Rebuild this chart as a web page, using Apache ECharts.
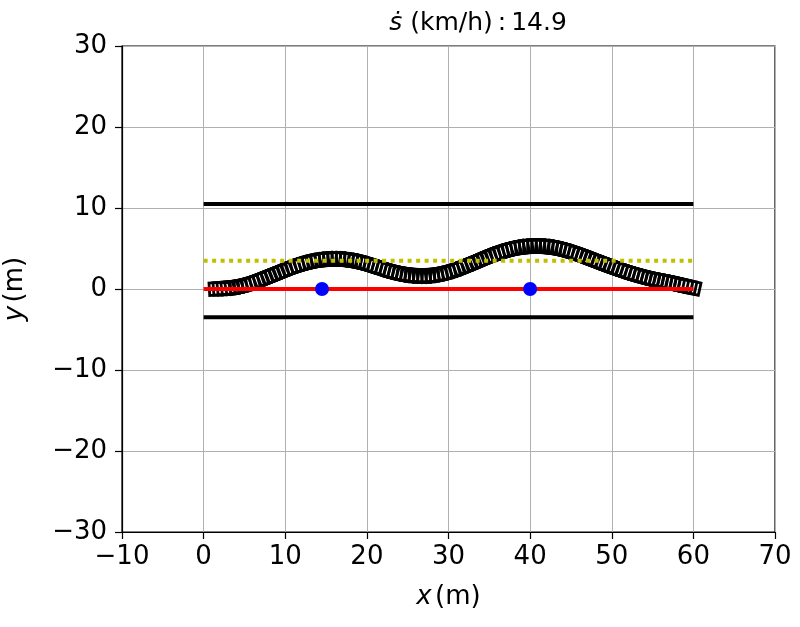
<!DOCTYPE html>
<html><head><meta charset="utf-8">
<script src="https://cdn.jsdelivr.net/npm/echarts@6/dist/echarts.min.js"></script>
<style>html,body{margin:0;padding:0;background:#fff}#c{width:800px;height:627px}</style>
</head><body><div id="c"></div>
<script>
// ---- data ----
const xTicks = [-10, 0, 10, 20, 30, 40, 50, 60, 70];
const yTicks = [-30, -20, -10, 0, 10, 20, 30];
const speedKmh = 14.9;
const boundTopY = 10.5;
const boundBottomY = -3.5;
const laneMidY = 3.5;
const refLineY = 0;
const roadX = [0, 60];
const obstaclesX = [14.5, 40];
const obstaclesY = [0, 0];
const carLength = 2.6;
const carWidth = 1.55;
const trajX = [2.0,2.5,3.0,3.5,4.0,4.5,5.0,5.5,6.0,6.5,7.0,7.5,8.0,8.5,9.0,9.5,10.0,10.5,11.0,11.5,12.0,12.5,13.0,13.5,14.0,14.5,15.0,15.5,16.0,16.5,17.0,17.5,18.0,18.5,19.0,19.5,20.0,20.5,21.0,21.5,22.0,22.5,23.0,23.5,24.0,24.5,25.0,25.5,26.0,26.5,27.0,27.5,28.0,28.5,29.0,29.5,30.0,30.5,31.0,31.5,32.0,32.5,33.0,33.5,34.0,34.5,35.0,35.5,36.0,36.5,37.0,37.5,38.0,38.5,39.0,39.5,40.0,40.5,41.0,41.5,42.0,42.5,43.0,43.5,44.0,44.5,45.0,45.5,46.0,46.5,47.0,47.5,48.0,48.5,49.0,49.5,50.0,50.5,51.0,51.5,52.0,52.5,53.0,53.5,54.0,54.5,55.0,55.5,56.0,56.5,57.0,57.5,58.0,58.5,59.0,59.5];
const trajY = [0.05,0.08,0.12,0.18,0.26,0.36,0.48,0.62,0.78,0.96,1.15,1.35,1.55,1.75,1.95,2.15,2.35,2.55,2.73,2.9,3.06,3.2,3.33,3.44,3.53,3.6,3.65,3.68,3.7,3.69,3.66,3.61,3.54,3.45,3.34,3.22,3.08,2.93,2.78,2.62,2.46,2.31,2.17,2.04,1.93,1.84,1.76,1.7,1.66,1.64,1.64,1.66,1.7,1.77,1.86,1.97,2.1,2.25,2.42,2.6,2.8,3.0,3.2,3.41,3.62,3.83,4.03,4.22,4.4,4.57,4.72,4.86,4.98,5.08,5.16,5.22,5.26,5.28,5.28,5.26,5.22,5.16,5.08,4.98,4.86,4.72,4.57,4.41,4.24,4.06,3.87,3.68,3.49,3.3,3.11,2.92,2.74,2.56,2.39,2.22,2.06,1.9,1.75,1.61,1.48,1.35,1.23,1.12,1.02,0.92,0.82,0.71,0.6,0.48,0.37,0.26];

const FONT = 'DejaVu Sans';
const FS = 26;
const chart = echarts.init(document.getElementById('c'), null, {renderer: 'canvas'});
const n = trajX.length;
const trajData = trajX.map((x, i) => [x, trajY[i]]);

function seg(y) { return [[roadX[0], y], [roadX[1], y]]; }
const richName = {
  i: {fontFamily: FONT, fontStyle: 'italic', fontSize: FS, color: '#000'},
  n: {fontFamily: FONT, fontSize: FS, color: '#000'}
};

chart.setOption({
  animation: false,
  title: {
    text: '{i|ṡ}{n| (km/h)\u2009:\u2009' + speedKmh + '}',
    left: 473, top: 6, textAlign: 'center',
    textStyle: {fontWeight: 'normal', rich: {
      i: {fontFamily: FONT, fontStyle: 'italic', fontWeight: 'normal', fontSize: 25, color: '#000'},
      n: {fontFamily: FONT, fontWeight: 'normal', fontSize: 25, color: '#000'}
    }}
  },
  grid: {left: 122, top: 46, width: 653, height: 486, containLabel: false, outerBoundsMode: 'none', show: true, borderColor: '#000', borderWidth: 1.2, backgroundColor: 'transparent'},
  xAxis: {
    type: 'value', min: -10, max: 70, interval: 10,
    name: '{i|x} {n|(m)}', nameLocation: 'middle', nameGap: 52,
    nameTextStyle: {rich: richName},
    axisLine: {show: true, onZero: false, lineStyle: {color: '#000', width: 1.2}},
    axisTick: {show: true, length: 7, lineStyle: {color: '#000', width: 1.2}},
    axisLabel: {fontFamily: FONT, fontSize: FS, color: '#000', margin: 12, formatter: v => xTicks.includes(v) ? String(v).replace('-', '\u2212') : ''},
    splitLine: {show: true, lineStyle: {color: '#b0b0b0', width: 1}}
  },
  yAxis: {
    type: 'value', min: -30, max: 30, interval: 10,
    name: '{i|y} {n|(m)}', nameLocation: 'middle', nameGap: 94, nameRotate: 90,
    nameTextStyle: {rich: richName},
    axisLine: {show: true, onZero: false, lineStyle: {color: '#000', width: 1.2}},
    axisTick: {show: true, length: 7, lineStyle: {color: '#000', width: 1.2}},
    axisLabel: {fontFamily: FONT, fontSize: FS, color: '#000', margin: 15, formatter: v => yTicks.includes(v) ? String(v).replace('-', '\u2212') : ''},
    splitLine: {show: true, lineStyle: {color: '#b0b0b0', width: 1}}
  },
  series: [
    {
      type: 'custom', z: 1, data: trajData, encode: {x: 0, y: 1},
      renderItem: function (params, api) {
        const i = params.dataIndex;
        const c = api.coord([api.value(0), api.value(1)]);
        const j0 = Math.max(0, i - 1), j1 = Math.min(n - 1, i + 1);
        const p0 = api.coord(trajData[j0]), p1 = api.coord(trajData[j1]);
        const ang = Math.atan2(p1[1] - p0[1], p1[0] - p0[0]);
        const sz = api.size([carLength, carWidth]);
        return {
          type: 'rect', x: c[0], y: c[1], rotation: -ang,
          shape: {x: -sz[0] / 2, y: -sz[1] / 2, width: sz[0], height: sz[1]},
          style: {fill: 'none', stroke: '#000', lineWidth: 2.8}
        };
      }
    },
    {type: 'line', z: 2, data: seg(boundTopY), symbol: 'none', lineStyle: {color: '#000', width: 4}},
    {type: 'line', z: 2, data: seg(boundBottomY), symbol: 'none', lineStyle: {color: '#000', width: 4}},
    {type: 'line', z: 3, data: seg(laneMidY), symbol: 'none', lineStyle: {color: '#bfbf00', width: 4, type: [4, 4.5]}},
    {type: 'line', z: 4, data: seg(refLineY), symbol: 'none', lineStyle: {color: '#ff0000', width: 4}},
    {type: 'scatter', z: 5, data: obstaclesX.map((x, i) => [x, obstaclesY[i]]), symbol: 'circle', symbolSize: 14, itemStyle: {color: '#0000ff', opacity: 1}}
  ]
});
</script></body></html>
